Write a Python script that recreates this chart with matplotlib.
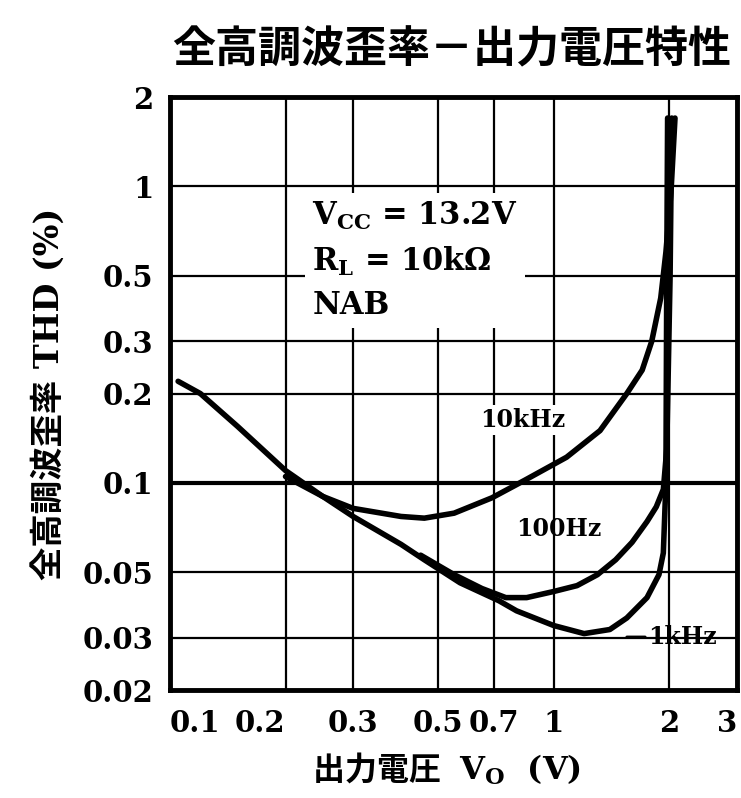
import numpy as np
import matplotlib
matplotlib.use('Agg')
import matplotlib.pyplot as plt

plt.rcParams['mathtext.fontset'] = 'dejavuserif'
plt.rcParams['mathtext.default'] = 'bf'

serif = ['DejaVu Serif', 'Noto Sans CJK JP']
cjk = ['Noto Sans CJK JP', 'DejaVu Serif']

# axis ticks
xticks = [0.1, 0.2, 0.3, 0.5, 0.7, 1, 2, 3]
xlabels = ['0.1', '0.2', '0.3', '0.5', '0.7', '1', '2', '3']
yticks = [0.02, 0.03, 0.05, 0.1, 0.2, 0.3, 0.5, 1, 2]
ylabels = ['0.02', '0.03', '0.05', '0.1', '0.2', '0.3', '0.5', '1', '2']

# 1kHz
x_1k = [0.105, 0.12, 0.15, 0.2, 0.25, 0.3, 0.4, 0.46, 0.57, 0.72, 0.8, 1.0,
        1.2, 1.4, 1.55, 1.75, 1.88, 1.93, 1.96, 1.97, 1.98]
y_1k = [0.22, 0.2, 0.155, 0.11, 0.09, 0.077, 0.062, 0.055, 0.046, 0.04, 0.037, 0.033,
        0.031, 0.032, 0.035, 0.041, 0.049, 0.058, 0.1, 0.5, 1.7]

# 100Hz
x_100 = [0.45, 0.55, 0.65, 0.75, 0.85, 1.0, 1.15, 1.3, 1.45, 1.6, 1.75, 1.85,
         1.93, 1.97, 2.01, 2.03]
y_100 = [0.057, 0.049, 0.044, 0.041, 0.041, 0.043, 0.045, 0.049, 0.055, 0.063,
         0.074, 0.083, 0.095, 0.13, 0.5, 1.7]

# 10kHz
x_10k = [0.2, 0.25, 0.3, 0.4, 0.46, 0.55, 0.69, 0.84, 1.08, 1.32, 1.55, 1.7,
         1.8, 1.9, 1.96, 2.02, 2.07]
y_10k = [0.105, 0.09, 0.082, 0.077, 0.076, 0.079, 0.089, 0.102, 0.122, 0.15, 0.2,
         0.24, 0.3, 0.42, 0.6, 0.95, 1.7]

fig = plt.figure(figsize=(7.41, 7.98), dpi=100)
ax = fig.add_axes([0.2294, 0.1353, 0.765, 0.743])

ax.set_xscale('log')
ax.set_yscale('log')
ax.set_xlim(0.1, 3)
ax.set_ylim(0.02, 2)

ax.set_xticks(xticks)
ax.set_xticklabels(xlabels)
ax.set_yticks(yticks)
ax.set_yticklabels(ylabels)
ax.minorticks_off()
ax.tick_params(axis='y', length=0, pad=12)
ax.tick_params(axis='x', length=0, pad=14)
for lab in ax.get_xticklabels() + ax.get_yticklabels():
    lab.set_family(serif)
    lab.set_fontweight('bold')
    lab.set_fontsize(21)
xt = ax.get_xticklabels()
xt[0].set_ha('left')
xt[1].set_ha('right')
xt[-1].set_ha('right')

ax.grid(True, color='black', lw=1.6, zorder=1)
ax.axhline(0.1, color='black', lw=3, zorder=1)
for s in ax.spines.values():
    s.set_linewidth(3.5)

ax.plot(x_1k, y_1k, color='black', lw=4, zorder=3, solid_capstyle='round')
ax.plot(x_100, y_100, color='black', lw=4, zorder=3, solid_capstyle='round')
ax.plot(x_10k, y_10k, color='black', lw=4, zorder=3, solid_capstyle='round')

box = dict(facecolor='white', edgecolor='none', pad=5)
ax.text(0.235, 0.9, 'V$_{CC}$ = 13.2V\nR$_L$ = 10kΩ\nNAB', family=serif,
        fontweight='bold', fontsize=22, ha='left', va='top', linespacing=1.5,
        bbox=box, zorder=2)
ax.text(0.83, 0.163, '10kHz', family=serif, fontweight='bold', fontsize=17,
        ha='center', va='center', bbox=dict(facecolor='white', edgecolor='none', pad=2), zorder=2)
ax.text(1.03, 0.07, '100Hz', family=serif, fontweight='bold', fontsize=17,
        ha='center', va='center', zorder=2)
ax.annotate('1kHz', xy=(1.55, 0.0302), xytext=(1.76, 0.0302), family=serif,
            fontweight='bold', fontsize=17, ha='left', va='center',
            arrowprops=dict(arrowstyle='-', lw=2, color='black', shrinkA=0, shrinkB=0),
            zorder=2)

fig.text(0.61, 0.938, '全高調波歪率－出力電圧特性', family=cjk, fontweight='bold',
         fontsize=31, ha='center', va='center')
ax.set_ylabel('全高調波歪率 THD (%)', family=serif, fontweight='bold', fontsize=24,
              labelpad=12)

# x label: CJK part and the V_O part chained together
t1 = fig.text(0.605, 0.035, '出力電圧 ', family=cjk, fontweight='bold', fontsize=23,
              ha='right', va='center')
ax.annotate(' V$_O$  (V)', xy=(1, 0.5), xycoords=t1, family='DejaVu Serif',
            fontweight='bold', fontsize=23, ha='left', va='center')

fig.savefig('out.png', dpi=100)
